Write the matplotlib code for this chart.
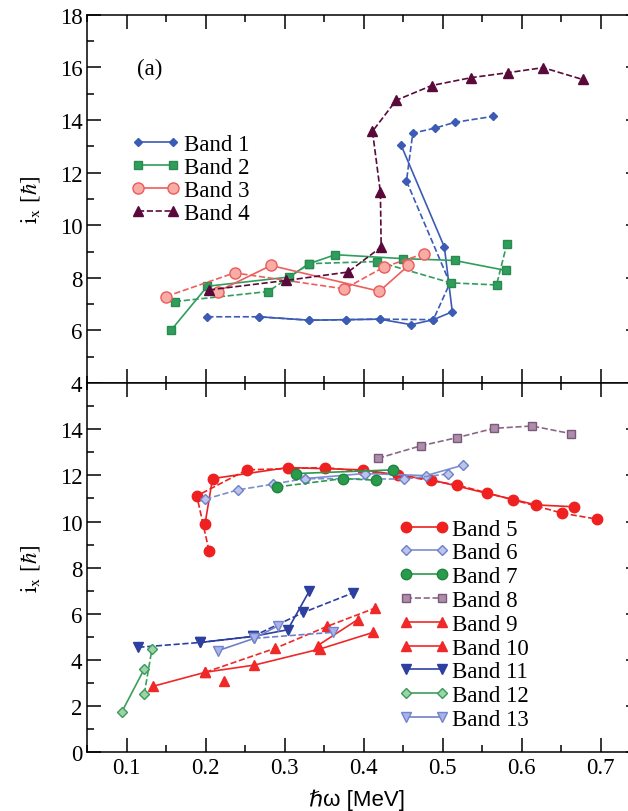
import matplotlib
matplotlib.use("Agg")
import matplotlib.pyplot as plt
from matplotlib.ticker import MultipleLocator

plt.rcParams['font.family'] = ['Liberation Serif', 'DejaVu Serif']
plt.rcParams['mathtext.fontset'] = 'stix'

# ---- upper panel (a) ----
b1_sol_x = [0.267, 0.331, 0.378, 0.420, 0.460, 0.488, 0.512, 0.502, 0.447]
b1_sol_y = [6.52, 6.39, 6.41, 6.43, 6.22, 6.41, 6.71, 9.17, 13.06]
b1_das_x = [0.202, 0.267, 0.331, 0.378, 0.420, 0.488, 0.509, 0.454, 0.462, 0.490, 0.515, 0.564]
b1_das_y = [6.52, 6.52, 6.39, 6.41, 6.43, 6.41, 7.80, 11.68, 13.50, 13.69, 13.91, 14.14]

b2_sol_x = [0.156, 0.202, 0.305, 0.331, 0.364, 0.450, 0.515, 0.580]
b2_sol_y = [6.01, 7.68, 8.03, 8.54, 8.88, 8.73, 8.66, 8.28]
b2_das_x = [0.161, 0.279, 0.331, 0.417, 0.510, 0.568, 0.581]
b2_das_y = [7.10, 7.48, 8.54, 8.62, 7.81, 7.73, 9.27]

b3_sol_x = [0.215, 0.2825, 0.4198, 0.4565]
b3_sol_y = [7.48, 8.47, 7.49, 8.47]
b3_das_x = [0.1496, 0.2364, 0.3755, 0.4255, 0.4764]
b3_das_y = [7.29, 8.19, 7.58, 8.41, 8.92]

b4_x = [0.204, 0.3015, 0.380, 0.422, 0.421, 0.411, 0.441, 0.486, 0.536, 0.583, 0.627, 0.677]
b4_y = [7.54, 7.90, 8.22, 9.17, 11.25, 13.57, 14.75, 15.31, 15.61, 15.80, 15.99, 15.54]

# ---- lower panel ----
b5_sol_x = [0.199, 0.2085, 0.3037, 0.3989, 0.4853, 0.5562, 0.6182, 0.6655]
b5_sol_y = [9.89, 11.86, 12.34, 12.24, 11.81, 11.22, 10.72, 10.64]
b5_das_x = [0.2041, 0.1886, 0.2519, 0.3511, 0.4432, 0.5185, 0.5894, 0.6514, 0.6957]
b5_das_y = [8.73, 11.11, 12.24, 12.34, 12.01, 11.58, 10.94, 10.36, 10.10]

b6_sol_x = [0.325, 0.4012, 0.4787, 0.5252]
b6_sol_y = [11.86, 12.08, 11.99, 12.44]
b6_das_x = [0.1996, 0.2404, 0.2851, 0.325, 0.4512, 0.5061]
b6_das_y = [10.97, 11.37, 11.62, 11.86, 11.84, 12.06]

b7_sol_x = [0.3148, 0.4375]
b7_sol_y = [12.08, 12.24]
b7_das_x = [0.2904, 0.3733, 0.4158]
b7_das_y = [11.50, 11.86, 11.79]

b8_x = [0.418, 0.472, 0.5185, 0.565, 0.613, 0.662]
b8_y = [12.74, 13.28, 13.64, 14.04, 14.14, 13.81]

b9_sol_x = [0.3414, 0.3923]
b9_sol_y = [4.62, 5.75]
b9_pt_x = [0.2227]
b9_pt_y = [3.11]

b10_sol_x = [0.1332, 0.1996, 0.2616, 0.3449, 0.4122]
b10_sol_y = [2.86, 3.47, 3.78, 4.48, 5.20]
b10_das_x = [0.1996, 0.2882, 0.3538, 0.4136]
b10_das_y = [3.47, 4.51, 5.46, 6.24]

b11_sol_x = [0.193, 0.2594, 0.3037, 0.3312]
b11_sol_y = [4.76, 5.02, 5.31, 7.00]
b11_das_x = [0.1146, 0.193, 0.2594, 0.3236, 0.3857]
b11_das_y = [4.55, 4.76, 5.02, 6.06, 6.90]

b12_sol_x = [0.0934, 0.1221]
b12_sol_y = [1.73, 3.61]
b12_das_x = [0.1221, 0.1319]
b12_das_y = [2.53, 4.48]

b13_sol_x = [0.2151, 0.2616, 0.2918]
b13_sol_y = [4.40, 4.94, 5.49]
b13_das_x = [0.2616, 0.3613]
b13_das_y = [4.94, 5.20]

FS = 16.5


def band(ax, x, y, ls, st, label=None):
    ax.plot(x, y, linestyle=ls, lw=1.2, label=label, **st)


def frame(ax, ymaj, ymin):
    ax.set_xlim(0.05, 0.75)
    ax.xaxis.set_major_locator(MultipleLocator(0.1))
    ax.xaxis.set_minor_locator(MultipleLocator(0.05))
    ax.set_yticks(ymaj)
    ax.set_yticks(ymin, minor=True)
    ax.tick_params(which='both', direction='in', top=True, right=True,
                   width=1.1, labelsize=FS)
    ax.tick_params(which='major', length=10)
    ax.tick_params(which='minor', length=5)
    for s in ax.spines.values():
        s.set_linewidth(1.1)
    ax.set_ylabel(r'$\mathrm{i}_{\mathrm{x}}$ [$\hbar$]', fontsize=FS)
    ax.yaxis.set_label_coords(-0.082, 0.5)


fig = plt.figure(figsize=(6.28, 8.12), dpi=100)
ax1 = fig.add_axes([0.139, 0.527, 0.8806, 0.4536])
ax2 = fig.add_axes([0.139, 0.0723, 0.8806, 0.4547])

s1 = dict(color='#3b5bb5', marker='D', ms=4.5)
s2 = dict(color='#2f9e5c', marker='s', ms=5.5, mec='#2a8a50')
s3 = dict(color='#ee5e5e', marker='o', ms=8, mfc='#f8aca6', mec='#ec5a5a')
s4 = dict(color='#5a0a3a', marker='^', ms=7)

band(ax1, b1_sol_x, b1_sol_y, '-', s1, 'Band 1')
band(ax1, b1_das_x, b1_das_y, '--', s1)
band(ax1, b2_sol_x, b2_sol_y, '-', s2, 'Band 2')
band(ax1, b2_das_x, b2_das_y, '--', s2)
band(ax1, b3_sol_x, b3_sol_y, '-', s3, 'Band 3')
band(ax1, b3_das_x, b3_das_y, '--', s3)
band(ax1, b4_x, b4_y, '--', s4, 'Band 4')

frame(ax1, range(4, 19, 2), range(5, 18, 2))
ax1.set_ylim(4, 18)
ax1.tick_params(labelbottom=False)
ax1.text(0.113, 0.853, '(a)', transform=ax1.transAxes, fontsize=FS,
         ha='center', va='center')
ax1.legend(loc='upper left', bbox_to_anchor=(0.080, 0.676), frameon=False,
           fontsize=FS, numpoints=2, handlelength=2.1, handletextpad=0.17,
           labelspacing=0.09, borderpad=0.0, borderaxespad=0.0)

s5 = dict(color='#ee2020', marker='o', ms=7.5)
s6 = dict(color='#7c8ed0', marker='D', ms=5, mfc='#bcc4ec', mec='#6e80c8')
s7 = dict(color='#2a9a4c', marker='o', ms=7.5, mec='#1f8440')
s8 = dict(color='#8a6888', marker='s', ms=6, mfc='#ae8cac', mec='#7a5a78')
s9 = dict(color='#f02828', marker='^', ms=7.5)
s11 = dict(color='#2d3f9f', marker='v', ms=7.5)
s12 = dict(color='#3b9e5c', marker='D', ms=5, mfc='#9ad4a8', mec='#3a9a5a')
s13 = dict(color='#6f80c8', marker='v', ms=7.5, mfc='#a8b4e8', mec='#7484cc')

band(ax2, b5_sol_x, b5_sol_y, '-', s5, 'Band 5')
band(ax2, b5_das_x, b5_das_y, '--', s5)
band(ax2, b6_sol_x, b6_sol_y, '-', s6, 'Band 6')
band(ax2, b6_das_x, b6_das_y, '--', s6)
band(ax2, b7_sol_x, b7_sol_y, '-', s7, 'Band 7')
band(ax2, b7_das_x, b7_das_y, '--', s7)
band(ax2, b8_x, b8_y, '--', s8, 'Band 8')
band(ax2, b9_sol_x, b9_sol_y, '-', s9, 'Band 9')
band(ax2, b9_pt_x, b9_pt_y, 'none', s9)
band(ax2, b10_sol_x, b10_sol_y, '-', s9, 'Band 10')
band(ax2, b10_das_x, b10_das_y, '--', s9)
band(ax2, b11_sol_x, b11_sol_y, '-', s11, 'Band 11')
band(ax2, b11_das_x, b11_das_y, '--', s11)
band(ax2, b12_sol_x, b12_sol_y, '-', s12, 'Band 12')
band(ax2, b12_das_x, b12_das_y, '--', s12)
band(ax2, b13_sol_x, b13_sol_y, '-', s13, 'Band 13')
band(ax2, b13_das_x, b13_das_y, '--', s13)

frame(ax2, range(0, 15, 2), range(1, 16, 2))
ax2.set_ylim(0, 16)
ax2.legend(loc='upper left', bbox_to_anchor=(0.563, 0.633), frameon=False,
           fontsize=FS, numpoints=2, handlelength=2.2, handletextpad=0.12,
           labelspacing=0.12, borderpad=0.0, borderaxespad=0.0)

fig.text(0.568, 0.0148, '\u210f\u03c9 [MeV]', fontsize=16, ha='center',
         va='center', family=['Liberation Sans', 'DejaVu Sans'])

fig.savefig('out.png', dpi=100)
